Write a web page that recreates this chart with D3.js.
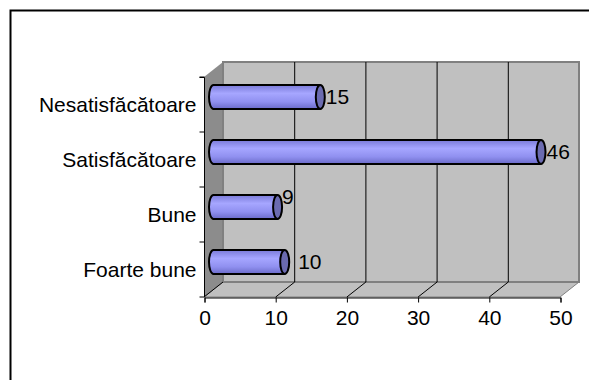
<!DOCTYPE html>
<html>
<head>
<meta charset="utf-8">
<script src="https://cdn.jsdelivr.net/npm/d3@7"></script>
<style>
  body { margin: 0; background: #fff; }
  svg { display: block; font-family: Arial, "Liberation Sans", sans-serif; }
</style>
</head>
<body>
<svg id="chart" width="589" height="380"></svg>
<script>
// data, top to bottom as shown
const categories = ['Nesatisfăcătoare', 'Satisfăcătoare', 'Bune', 'Foarte bune']
const values = [15, 46, 9, 10]
const xTicks = [0, 10, 20, 30, 40, 50]

const width = 589, height = 380
const depthX = 19, depthY = -15 // 3d wall offset
const fontSize = 21
const svg = d3.select('#chart')

// outer frame (only top & left visible)
svg.append('path').attr('d', `M10.5,${height}V10.5H${width}`)
  .attr('fill', 'none').attr('stroke', '#000').attr('stroke-width', 2)

const x = d3.scaleLinear().domain([0, 50]).range([204, 560])
const y = d3.scaleBand().domain(categories).range([77, 297])

const x0 = x(0), x1 = x(50), yTop = y.range()[0], yBot = y.range()[1]

// side wall
svg.append('path')
  .attr('d', `M${x0},${yTop} L${x0 + depthX},${yTop + depthY} L${x0 + depthX},${yBot + depthY} L${x0},${yBot} Z`)
  .attr('fill', '#8c8c8c')
// floor
svg.append('path')
  .attr('d', `M${x0},${yBot} L${x0 + depthX},${yBot + depthY} L${x1 + depthX},${yBot + depthY} L${x1},${yBot} Z`)
  .attr('fill', '#c0c0c0').attr('stroke', '#808080').attr('stroke-width', 1)
// back wall
svg.append('rect')
  .attr('x', x0 + depthX).attr('y', yTop + depthY)
  .attr('width', x1 - x0).attr('height', yBot - yTop)
  .attr('fill', '#c0c0c0').attr('stroke', '#808080').attr('stroke-width', 2)

// gridlines on back wall + floor diagonals
const grid = xTicks.filter(d => d > 0 && d < 50)
svg.append('g').selectAll('path').data(grid).join('path')
  .attr('d', d => `M${x(d) + depthX + 0.5},${yTop + depthY} V${yBot + depthY} L${x(d) + 0.5},${yBot}`)
  .attr('fill', 'none').attr('stroke', '#000').attr('stroke-width', 1)
svg.append('path')
  .attr('d', `M${x0},${yBot} L${x0 + depthX},${yBot + depthY}`)
  .attr('stroke', '#000').attr('fill', 'none')

// axes
const xAxis = d3.axisBottom(x).tickValues(xTicks).tickSize(5).tickPadding(5)
const gx = svg.append('g').attr('transform', `translate(0.5,${yBot + 0.5})`).call(xAxis)
gx.select('.domain').attr('stroke', '#000')
gx.selectAll('text').attr('font-size', fontSize).attr('fill', '#000').attr('dy', '0.85em')

const yAxis = d3.axisLeft(y).tickSize(5).tickPadding(3)
const gy = svg.append('g').attr('transform', `translate(${x0 + 0.5},0)`).call(yAxis)
gy.select('.domain').attr('d', `M-5,${yTop + 0.5}H0V${yBot}H-5`).attr('stroke', '#000')
gy.selectAll('.tick line').attr('transform', `translate(0,${-y.step() / 2})`)
gy.selectAll('text').attr('font-size', fontSize).attr('fill', '#000').attr('dy', '0.35em')

// cylinder bars
const defs = svg.append('defs')
const grad = defs.append('linearGradient').attr('id', 'cyl').attr('x1', 0).attr('y1', 0).attr('x2', 0).attr('y2', 1)
grad.append('stop').attr('offset', '0%').attr('stop-color', '#7a7ad8')
grad.append('stop').attr('offset', '35%').attr('stop-color', '#a6a6ff')
grad.append('stop').attr('offset', '70%').attr('stop-color', '#9090f0')
grad.append('stop').attr('offset', '100%').attr('stop-color', '#6a6ac8')

const barH = 24, rx = 4.5
const bars = svg.append('g').selectAll('g').data(categories).join('g')
  .attr('transform', (d, i) => `translate(0,${y(d) + y.bandwidth() / 2 + depthY / 2})`)

const bx0 = x0 + depthX / 2
bars.append('path')
  .attr('d', (d, i) => {
    const xe = x(values[i]) + depthX / 2
    return `M${xe},${-barH / 2} H${bx0} A${rx},${barH / 2} 0 0 0 ${bx0},${barH / 2} H${xe}`
  })
  .attr('fill', 'url(#cyl)').attr('stroke', '#000').attr('stroke-width', 2)
bars.append('ellipse')
  .attr('cx', (d, i) => x(values[i]) + depthX / 2).attr('cy', 0)
  .attr('rx', rx).attr('ry', barH / 2)
  .attr('fill', '#6b6bb0').attr('stroke', '#000').attr('stroke-width', 2)

// value labels
const labelShift = { 'Bune': [-1, -10], 'Foarte bune': [8, 0] }
bars.append('text')
  .attr('x', (d, i) => x(values[i]) + depthX / 2 + rx + 1 + (labelShift[d] ? labelShift[d][0] : 0))
  .attr('y', d => labelShift[d] ? labelShift[d][1] : 0)
  .attr('dy', '0.35em')
  .attr('font-size', fontSize)
  .text((d, i) => values[i])
</script>
</body>
</html>
